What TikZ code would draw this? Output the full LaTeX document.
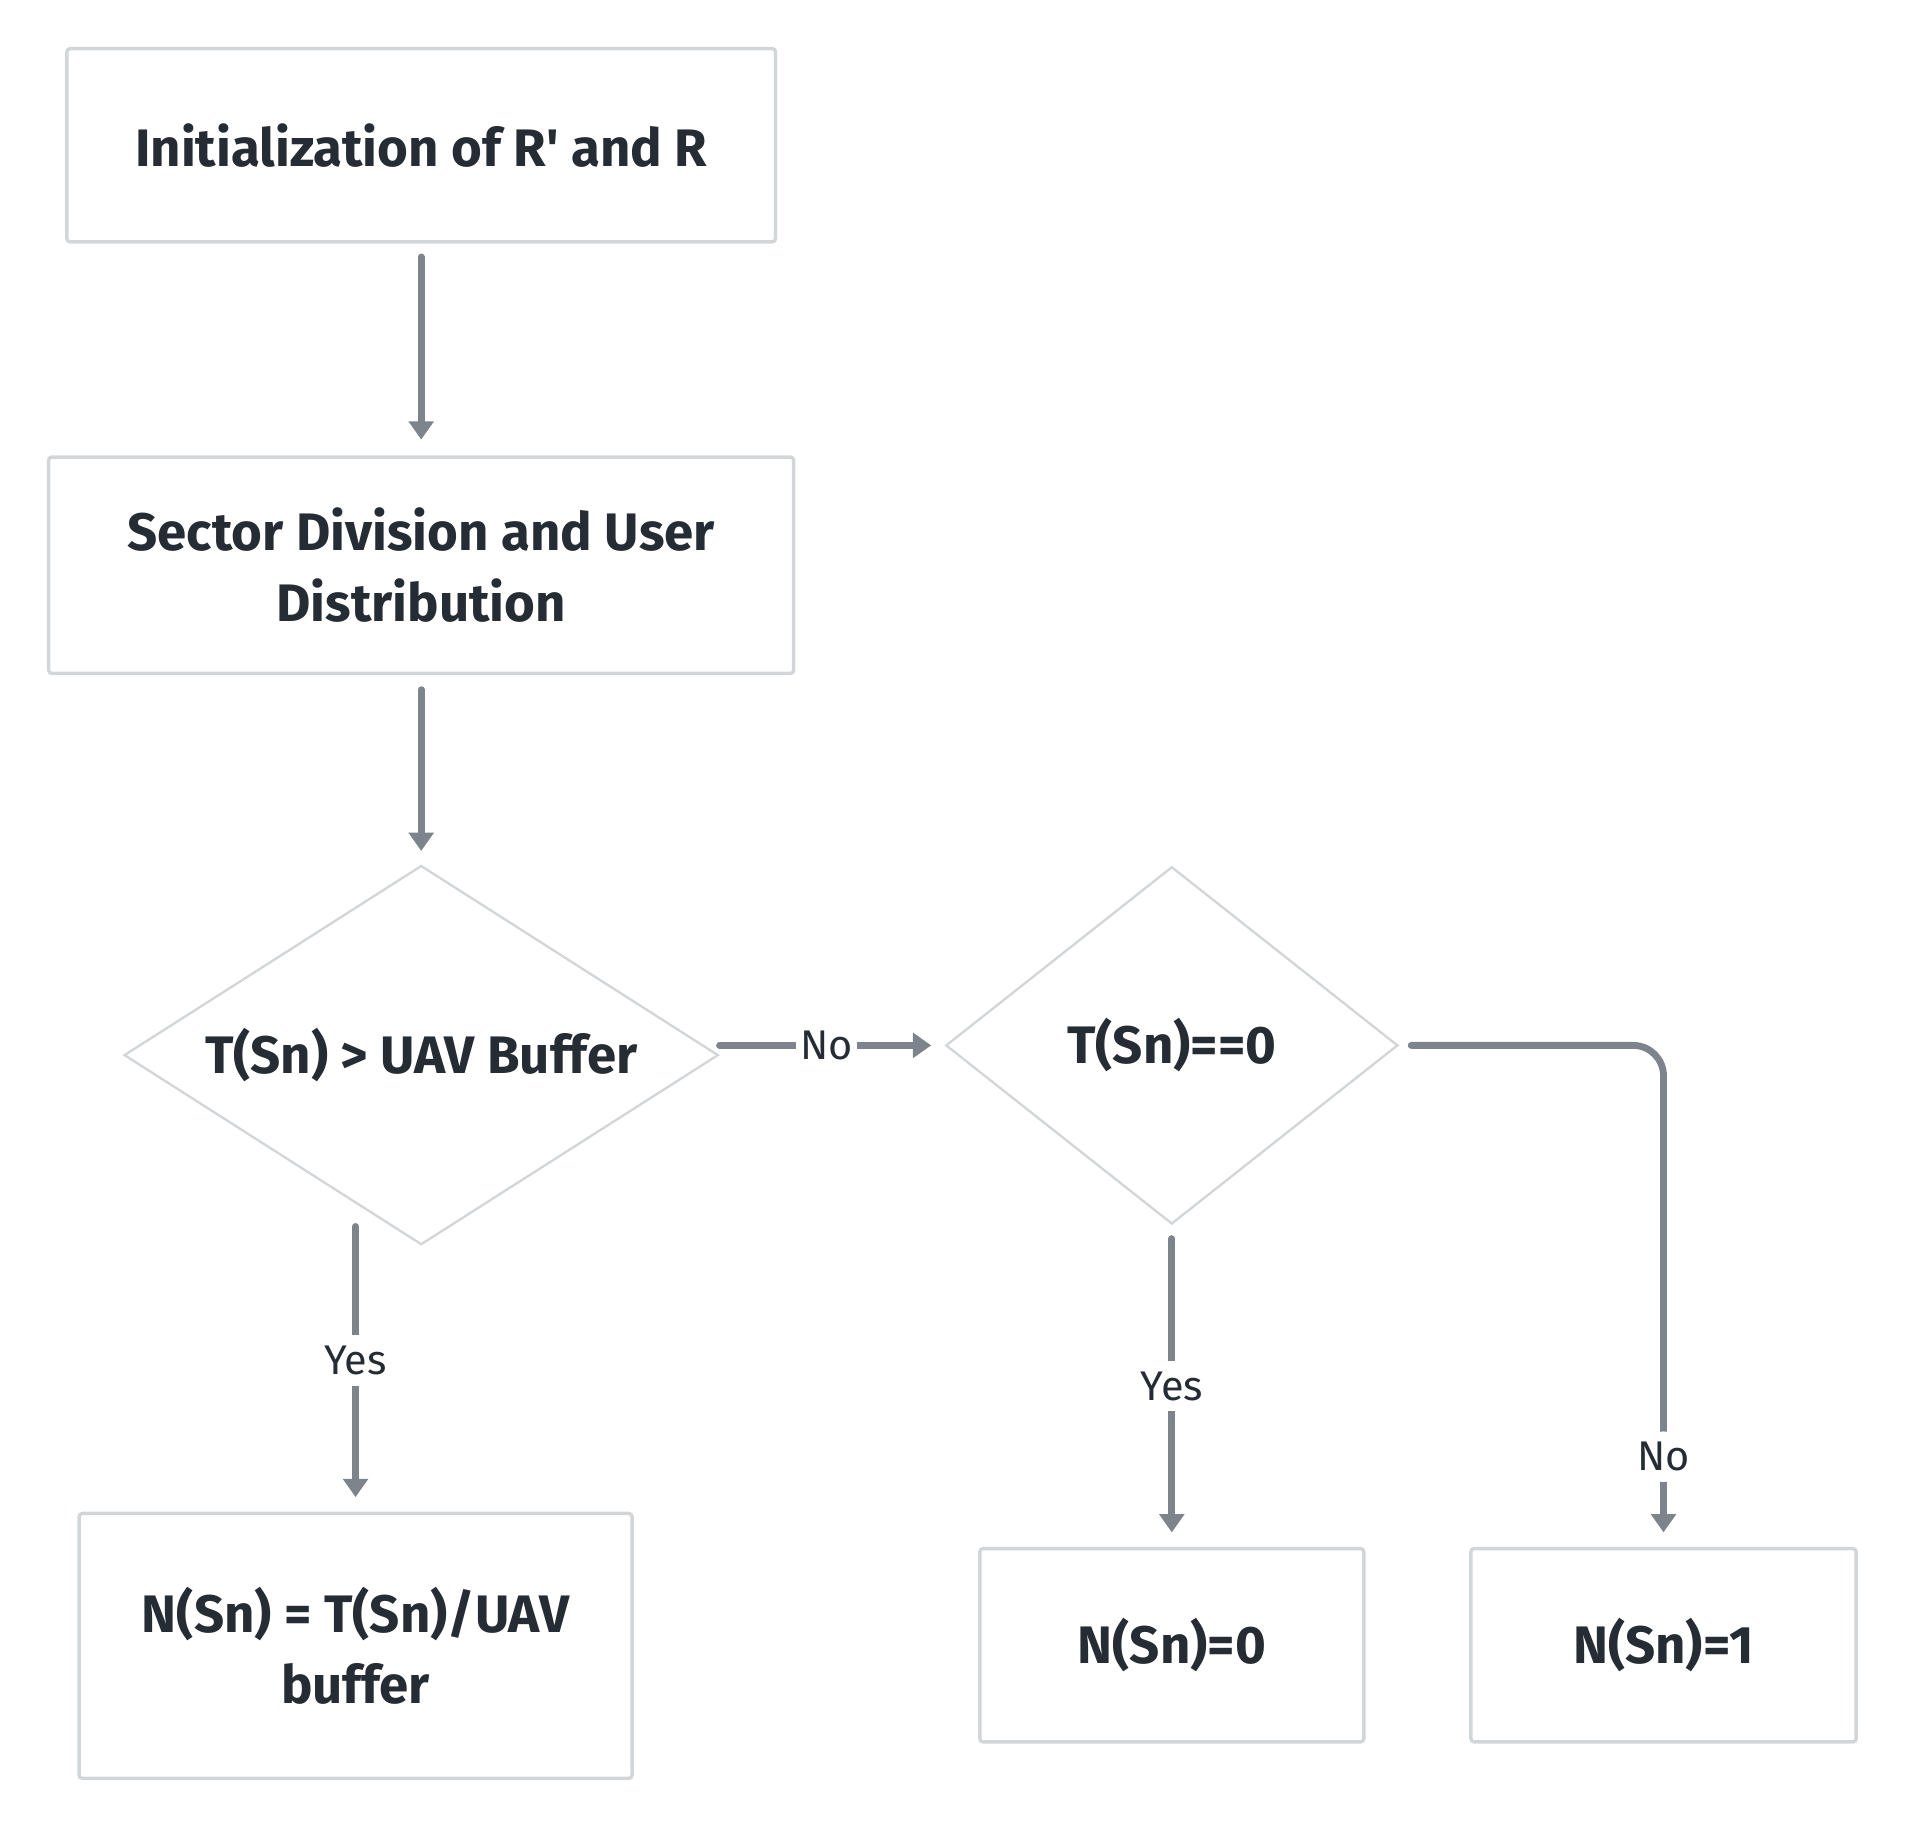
\documentclass[tikz,border=0pt]{standalone}
\usepackage{fontspec}
\setmainfont{Fira Sans}[Ligatures=TeXOff]
\usetikzlibrary{shapes,arrows.meta,positioning,calc}

\definecolor{edgegray}{HTML}{7D848C}
\definecolor{boxgray}{HTML}{D3D6D9}
\definecolor{inkdark}{HTML}{262C33}

\begin{document}
\begin{tikzpicture}[
    x=0.02cm, y=-0.02cm,
    block/.style={rectangle, draw=boxgray, line width=1.6pt, rounded corners=1.5pt, text=inkdark, font=\fontsize{24.7}{33.5}\selectfont\bfseries, align=center, inner sep=0pt},
    decision/.style={diamond, draw=boxgray, line width=1.1pt, text=inkdark, font=\fontsize{24.7}{33.5}\selectfont\bfseries, inner sep=0pt},
    line/.style={draw=edgegray, line width=3.2pt, line cap=round, -{Triangle[width=0.4cm, length=0.3cm]}},
    lbl/.style={fill=white, text=inkdark, font=\fontsize{19.4}{22}\selectfont, inner xsep=2pt, inner ysep=5pt}
]
\useasboundingbox (0,0) rectangle (1568,1504);

% Nodes
\node [block, minimum width=11.66cm, minimum height=3.18cm] (init) at (346.5,119.5) {Initialization of R' and R};
\node [block, minimum width=12.26cm, minimum height=3.56cm] (sector) at (346.5,465) {Sector Division and User\\Distribution};
\node [decision, shape aspect=1.57, minimum width=9.78cm, minimum height=6.24cm] (buf) at (346.5,868) {T(Sn) > UAV Buffer};
\node [decision, shape aspect=1.27, minimum width=7.44cm, minimum height=5.88cm] (zero) at (964,860) {T(Sn)==0};
\node [block, minimum width=9.1cm, minimum height=4.36cm] (ratio) at (292.5,1354) {N(Sn) = T(Sn)/UAV\\buffer};
\node [block, minimum width=6.32cm, minimum height=3.18cm] (nzero) at (964,1353.5) {N(Sn)=0};
\node [block, minimum width=6.34cm, minimum height=3.18cm] (none) at (1368.5,1353.5) {N(Sn)=1};

% Connections
\draw [line, shorten <=0.22cm, shorten >=0.26cm] (init) -- (sector);
\draw [line, shorten <=0.24cm, shorten >=0.22cm] (sector) -- (buf);

% No branch to second test
\draw [line, shorten >=0.22cm] (buf.east |- zero.west) -- node[lbl, pos=0.475] {No} (zero.west);

% Yes branches
\draw [line, shorten >=0.24cm] ($(buf.south -| ratio.north)+(0,-16)$) -- node[lbl, pos=0.47] {Yes} (ratio.north);
\draw [line, shorten <=0.22cm, shorten >=0.24cm] (zero.south) -- node[lbl] {Yes} (nzero.north);

% No branch to N(Sn)=1
\draw [line, rounded corners=0.5cm, shorten <=0.2cm, shorten >=0.24cm] (zero.east) -| node[lbl, pos=0.91] {No} (none.north);

\end{tikzpicture}
\end{document}
